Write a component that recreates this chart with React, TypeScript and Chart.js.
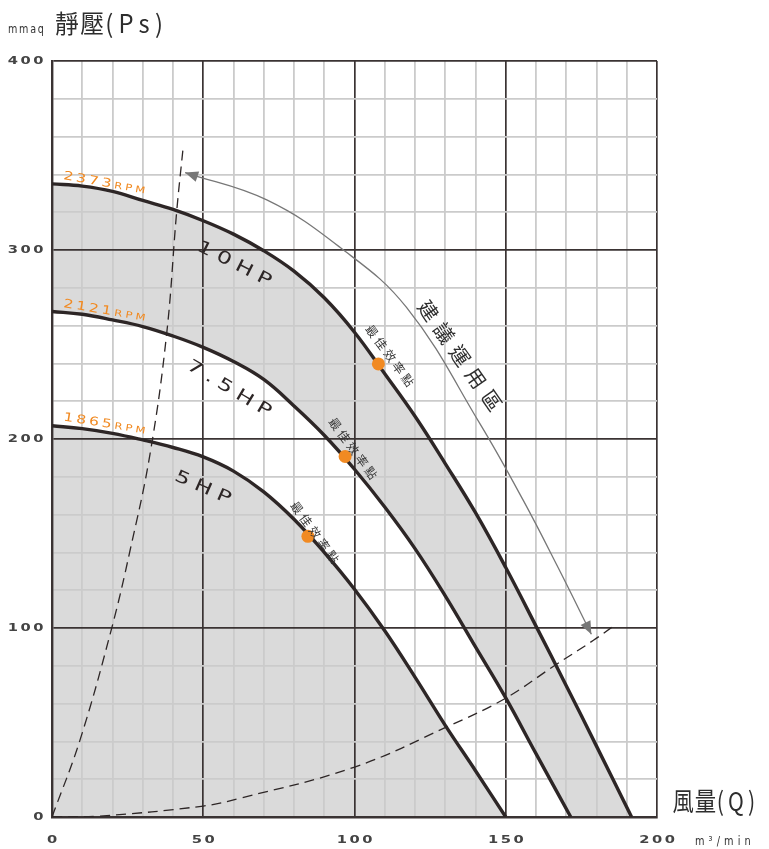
import React, { useEffect, useRef } from "react";
import { Chart, registerables } from "chart.js";

Chart.register(...registerables);

// ---- axis labels ----
const xTickLabels = [0, 50, 100, 150, 200];
const yTickLabels = [0, 100, 200, 300, 400];

// ---- fan curves (風量 m3/min, 靜壓 mmaq) ----
const curve10X = [0, 10, 20, 30, 40, 50, 60, 70, 80, 90, 100, 110, 120, 130, 140, 150, 160, 170, 180, 191.6];
const curve10Y = [335, 333.8, 331, 326.2, 321.5, 315.5, 308.4, 299.6, 288.8, 274.7, 256.5, 234.5, 212, 187, 161, 132, 101, 69.5, 37.5, 0];

const curve75X = [0, 10, 20, 30, 40, 50, 60, 70, 80, 90, 100, 110, 120, 130, 140, 150, 160, 171.5];
const curve75Y = [267.5, 266, 263, 259.5, 254.5, 248.5, 241, 231.5, 217.5, 202, 184, 164, 142, 117, 90, 63, 33.5, 0];

const curve5X = [0, 10, 20, 30, 40, 50, 60, 70, 80, 90, 100, 110, 120, 130, 140, 150];
const curve5Y = [207, 205.5, 203, 199.5, 195.5, 190.5, 183, 172, 157.5, 140, 120.5, 98.5, 74, 48.5, 24.5, 0];

// best efficiency points
const bestX = [107.9, 96.9, 84.6];
const bestY = [239.7, 190.8, 148.5];

// system resistance (dashed) curves
const steepX = [0, 9.25, 19.7, 25.8, 32.4, 37.9, 41.2, 43.4];
const steepY = [0, 40.7, 99.7, 141, 192, 255.6, 320, 355];
const flatX = [0, 15.9, 50, 62.1, 99.8, 131, 149.8, 166.3, 179, 185.6];
const flatY = [0, 0.5, 5.8, 9.9, 26.3, 48, 62.7, 80.3, 93.5, 101];

// recommended zone arrow
const arrowX = [44, 71, 95.2, 117.2, 141.5, 155.8, 167.3, 178.3];
const arrowY = [341, 326.5, 301.4, 269.6, 208, 167.5, 132, 96.7];

// texts
const rpmLabels = ["2373", "2121", "1865"];
const hpLabels = ["10HP", "7.5HP", "5HP"];
const bestLabel = "最佳效率點";
const zoneLabel = "建議運用區";

// annotation anchors in data coordinates [x, y, angleDeg]
const hpPos = [[60.2, 292.5, 27], [58.5, 226.5, 31], [49.8, 174.1, 24]];
const rpmPos = [[3.6, 337.6, 10], [3.6, 269.9, 9.5], [3.6, 209.8, 9]];
const bestLabelPos = [[111.7, 244.1, 54], [99.5, 195, 54], [86.9, 150.6, 54]];
const zonePos = [134.9, 244.1, 55];

const DARK = "#2d2626";
const MAJOR = "#3a3333";
const MINOR = "#cbcbcb";
const FILL = "#dadada";
const ORANGE = "#f18a22";
const GRAY = "#777777";
const CJK = '"Noto Sans CJK TC", "Noto Sans CJK SC", sans-serif';
const SANS = '"DejaVu Sans", sans-serif';

type Seg = { text: string; font: string; spacing: number; color: string };

function drawSegs(
  ctx: CanvasRenderingContext2D,
  x: number,
  y: number,
  angle: number,
  sx: number,
  segs: Seg[],
  align: "left" | "center" | "right",
  baseline: CanvasTextBaseline
) {
  const c = ctx as any;
  ctx.save();
  ctx.translate(x, y);
  ctx.rotate((angle * Math.PI) / 180);
  ctx.scale(sx, 1);
  ctx.textBaseline = baseline;
  ctx.textAlign = "left";
  const widths = segs.map((s) => {
    ctx.font = s.font;
    c.letterSpacing = s.spacing + "px";
    return ctx.measureText(s.text).width;
  });
  const total = widths.reduce((a, b) => a + b, 0) - segs[segs.length - 1].spacing;
  let cx = align === "left" ? 0 : align === "center" ? -total / 2 : -total;
  segs.forEach((s, i) => {
    ctx.font = s.font;
    c.letterSpacing = s.spacing + "px";
    ctx.fillStyle = s.color;
    ctx.fillText(s.text, cx, 0);
    cx += widths[i];
  });
  ctx.restore();
}

function arrowHead(ctx: CanvasRenderingContext2D, tx: number, ty: number, fx: number, fy: number) {
  const a = Math.atan2(ty - fy, tx - fx);
  ctx.save();
  ctx.translate(tx, ty);
  ctx.rotate(a);
  ctx.beginPath();
  ctx.moveTo(0, 0);
  ctx.lineTo(-13, -5.5);
  ctx.lineTo(-13, 5.5);
  ctx.closePath();
  ctx.fillStyle = GRAY;
  ctx.fill();
  ctx.restore();
}

const pts = (xs: number[], ys: number[]) => xs.map((x, i) => ({ x, y: ys[i] }));

const annotPlugin = {
  id: "annot",
  afterDatasetsDraw(chart: any) {
    const ctx: CanvasRenderingContext2D = chart.ctx;
    const xs = chart.scales.x;
    const ys = chart.scales.y;
    const px = (v: number) => xs.getPixelForValue(v);
    const py = (v: number) => ys.getPixelForValue(v);

    // arrow heads
    const meta = chart.getDatasetMeta(1);
    const d = meta.data;
    if (d && d.length > 1) {
      const p0 = d[0];
      const pn = d[d.length - 1];
      const f0x = p0.cp2x ?? d[1].x, f0y = p0.cp2y ?? d[1].y;
      const fnx = pn.cp1x ?? d[d.length - 2].x, fny = pn.cp1y ?? d[d.length - 2].y;
      arrowHead(ctx, p0.x, p0.y, f0x, f0y);
      arrowHead(ctx, pn.x, pn.y, fnx, fny);
    }

    // HP labels
    hpLabels.forEach((t, i) => {
      const [x, y, a] = hpPos[i];
      drawSegs(ctx, px(x), py(y), a, 1.4, [{ text: t, font: `17px ${SANS}`, spacing: 4.5, color: DARK }], "center", "middle");
    });
    // RPM labels
    rpmLabels.forEach((t, i) => {
      const [x, y, a] = rpmPos[i];
      drawSegs(
        ctx, px(x), py(y), a, 1.3,
        [
          { text: t, font: `12px ${SANS}`, spacing: 2.3, color: ORANGE },
          { text: "RPM", font: `9px ${SANS}`, spacing: 2.4, color: ORANGE },
        ],
        "left", "alphabetic"
      );
    });
    // best efficiency labels
    bestLabelPos.forEach(([x, y, a]) => {
      drawSegs(ctx, px(x), py(y), a, 1, [{ text: bestLabel, font: `12px ${CJK}`, spacing: 3.2, color: "#333" }], "center", "middle");
    });
    // zone label
    drawSegs(ctx, px(zonePos[0]), py(zonePos[1]), zonePos[2], 1, [{ text: zoneLabel, font: `20px ${CJK}`, spacing: 7.5, color: "#2d2d2d" }], "center", "middle");
  },
  afterDraw(chart: any) {
    const ctx: CanvasRenderingContext2D = chart.ctx;
    const xs = chart.scales.x;
    const ys = chart.scales.y;
    const area = chart.chartArea;
    // tick labels
    const tickFont = `bold 10.5px ${SANS}`;
    xTickLabels.forEach((v) => {
      drawSegs(ctx, xs.getPixelForValue(v), area.bottom + 23, 0, 1.4, [{ text: String(v), font: tickFont, spacing: 1.8, color: "#444" }], "center", "middle");
    });
    yTickLabels.forEach((v) => {
      drawSegs(ctx, area.left - 8.5, ys.getPixelForValue(v), 0, 1.4, [{ text: String(v), font: tickFont, spacing: 1.8, color: "#444" }], "right", "middle");
    });
    // axis titles
    drawSegs(ctx, area.left - 44, area.top - 28, 0, 0.8, [{ text: "mmaq", font: `12px ${SANS}`, spacing: 2.2, color: "#333" }], "left", "alphabetic");
    drawSegs(ctx, area.left + 3, area.top - 37.5, 0, 0.95,
      [
        { text: "靜壓", font: `25px ${CJK}`, spacing: 1.5, color: "#2d2d2d" },
        { text: "(Ps)", font: `25px ${CJK}`, spacing: 5.5, color: "#2d2d2d" },
      ], "left", "middle");
    drawSegs(ctx, area.right + 15.5, area.bottom - 15.5, 0, 0.82,
      [
        { text: "風量", font: `26px ${CJK}`, spacing: 1, color: "#2d2d2d" },
        { text: "(Q)", font: `26px ${CJK}`, spacing: 5, color: "#2d2d2d" },
      ], "left", "middle");
    drawSegs(ctx, area.right + 38, area.bottom + 25, 0, 0.75, [{ text: "m³/min", font: `13px ${SANS}`, spacing: 5.5, color: "#333" }], "left", "middle");
  },
};

export default function App() {
  const ref = useRef<HTMLCanvasElement | null>(null);
  useEffect(() => {
    if (!ref.current) return;
    const hpLine = (xs: number[], ys: number[], bg: string) => ({
      data: pts(xs, ys),
      borderColor: DARK,
      borderWidth: 3.4,
      backgroundColor: bg,
      fill: "origin",
      tension: 0.4,
      pointRadius: 0,
    });
    const chart = new Chart(ref.current, {
      type: "line",
      data: {
        datasets: [
          {
            data: pts(bestX, bestY),
            showLine: false,
            pointRadius: 6.5,
            pointBackgroundColor: ORANGE,
            pointBorderWidth: 0,
            fill: false,
          } as any,
          {
            data: pts(arrowX, arrowY),
            borderColor: GRAY,
            borderWidth: 1.3,
            tension: 0.4,
            pointRadius: 0,
            fill: false,
          },
          {
            data: pts(steepX, steepY),
            borderColor: DARK,
            borderWidth: 1.3,
            borderDash: [10, 6],
            tension: 0.4,
            pointRadius: 0,
            fill: false,
          },
          {
            data: pts(flatX, flatY),
            borderColor: DARK,
            borderWidth: 1.3,
            borderDash: [10, 6],
            tension: 0.4,
            pointRadius: 0,
            fill: false,
          },
          hpLine(curve5X, curve5Y, FILL),
          hpLine(curve75X, curve75Y, "#ffffff"),
          hpLine(curve10X, curve10Y, FILL),
        ] as any,
      },
      options: {
        animation: false,
        responsive: false,
        maintainAspectRatio: false,
        layout: { padding: { top: 61, right: 112, left: 0, bottom: 0 } },
        plugins: {
          legend: { display: false },
          tooltip: { enabled: false },
          filler: { drawTime: "beforeDraw", propagate: false },
        } as any,
        scales: {
          x: {
            type: "linear",
            min: 0,
            max: 200,
            ticks: { stepSize: 10, display: false, autoSkip: false },
            grid: {
              drawTicks: false,
              color: (c: any) => ((c.tick?.value ?? 0) % 50 === 0 ? MAJOR : MINOR),
              lineWidth: (c: any) => ((c.tick?.value ?? 0) % 50 === 0 ? 1.7 : 1.8),
            },
            border: { color: MAJOR, width: 2.4 },
            afterFit: (s: any) => {
              s.height = 32;
            },
          },
          y: {
            type: "linear",
            min: 0,
            max: 400,
            ticks: { stepSize: 20, display: false, autoSkip: false },
            grid: {
              drawTicks: false,
              color: (c: any) => ((c.tick?.value ?? 0) % 100 === 0 ? MAJOR : MINOR),
              lineWidth: (c: any) => ((c.tick?.value ?? 0) % 100 === 0 ? 1.7 : 1.8),
            },
            border: { color: MAJOR, width: 2.4 },
            afterFit: (s: any) => {
              s.width = 52;
            },
          },
        } as any,
      },
      plugins: [annotPlugin as any],
    });
    return () => chart.destroy();
  }, []);

  return (
    <div style={{ position: "absolute", left: 0, top: 0, width: 769, height: 849, background: "#ffffff" }}>
      <canvas ref={ref} width={769} height={849} style={{ display: "block" }} />
    </div>
  );
}
